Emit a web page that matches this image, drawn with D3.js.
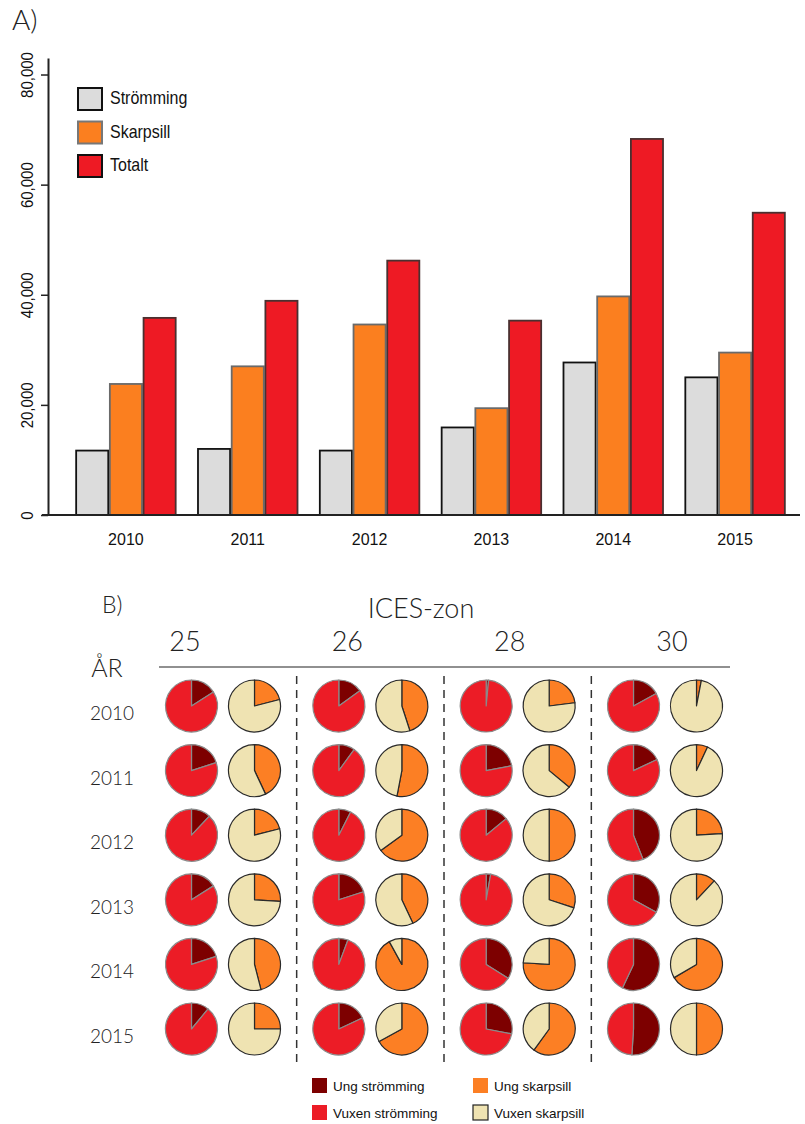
<!DOCTYPE html>
<html>
<head>
<meta charset="utf-8">
<script src="https://cdn.jsdelivr.net/npm/d3@7"></script>
<style>
  body { margin: 0; background: #fff; }
  svg { display: block; }
  .thin { font-family: Lato, "Open Sans", sans-serif; font-weight: 300; fill: #222; }
  .arial { font-family: "Liberation Sans", Arial, sans-serif; fill: #111; }
</style>
</head>
<body>
<div id="chart"></div>
<script>
// --- panel A: landings per year
const years = ["2010", "2011", "2012", "2013", "2014", "2015"];
const seriesNames = ["Strömming", "Skarpsill", "Totalt"];
const strommingTot = [11700, 12000, 11700, 15900, 27700, 25000];
const skarpsillTot = [23800, 27000, 34600, 19400, 39700, 29500];
const totalt = [35800, 38900, 46200, 35300, 68300, 54900];
const yTicks = [0, 20000, 40000, 60000, 80000];

// --- panel B: share (%) of young fish per ICES zone, rows = years
const zones = ["25", "26", "28", "30"];
const ungStromming = {
  "25": [16, 20, 12, 16, 20, 11],
  "26": [15, 10, 7.5, 20, 5.7, 18],
  "28": [1.5, 22, 14, 2.8, 34, 28],
  "30": [17, 18, 44, 33, 57, 51]
};
const ungSkarpsill = {
  "25": [21, 43, 21, 26, 46, 25],
  "26": [45, 53, 65, 43, 92, 67],
  "28": [23, 36, 50, 30, 76, 60],
  "30": [3, 7, 24, 12, 66.5, 50]
};
const pieLegend = ["Ung strömming", "Vuxen strömming", "Ung skarpsill", "Vuxen skarpsill"];

const width = 805, height = 1124;
const svg = d3.select("#chart").append("svg")
  .attr("width", width).attr("height", height);

// ---------------- A) bar chart
const barFill = { "Strömming": "#dcdcdc", "Skarpsill": "#fb7f1f", "Totalt": "#ee1a24" };
const barStroke = { "Strömming": "#111", "Skarpsill": "#6a6a6a", "Totalt": "#4a3030" };

svg.append("text").attr("class", "thin")
  .attr("x", 12).attr("y", 30).attr("font-size", 28).text("A)");

const x = d3.scaleBand().domain(years).range([65, 796])
  .paddingInner(0.17).paddingOuter(0.085);
const xs = d3.scaleBand().domain(seriesNames).range([0, x.bandwidth()]);
const y = d3.scaleLinear().domain([0, 83000]).range([515, 58]);

const rows = years.map((yr, i) => ({
  year: yr,
  vals: [strommingTot[i], skarpsillTot[i], totalt[i]]
}));

const groups = svg.append("g").selectAll("g").data(rows).join("g")
  .attr("transform", d => `translate(${x(d.year)},0)`);
groups.selectAll("rect")
  .data(d => d.vals.map((v, j) => ({ name: seriesNames[j], v })))
  .join("rect")
  .attr("x", d => xs(d.name) + 0.8)
  .attr("width", xs.bandwidth() - 1.6)
  .attr("y", d => y(d.v))
  .attr("height", d => y(0) - y(d.v))
  .attr("fill", d => barFill[d.name])
  .attr("stroke", d => barStroke[d.name])
  .attr("stroke-width", 1.8);

// x axis baseline and year labels
svg.append("line").attr("x1", 42).attr("x2", 800)
  .attr("y1", y(0)).attr("y2", y(0))
  .attr("stroke", "#222").attr("stroke-width", 2);
svg.append("g").selectAll("text").data(years).join("text")
  .attr("class", "arial")
  .attr("x", d => x(d) + x.bandwidth() / 2)
  .attr("y", 545)
  .attr("text-anchor", "middle")
  .attr("font-size", 16)
  .text(d => d);

// y axis
const yAxis = svg.append("g").attr("transform", "translate(48,0)")
  .call(d3.axisLeft(y).tickValues(yTicks).tickFormat(d3.format(","))
    .tickSize(7).tickSizeOuter(0));
yAxis.select(".domain").attr("stroke", "#222").attr("stroke-width", 2);
yAxis.selectAll(".tick line").attr("stroke", "#222").attr("stroke-width", 1.5);
yAxis.selectAll(".tick text")
  .attr("class", "arial")
  .attr("font-size", 15)
  .attr("text-anchor", "middle")
  .attr("x", null).attr("dy", null)
  .attr("transform", "rotate(-90) translate(0,-15) scale(1,1.15)")
  .attr("y", 0);

// legend A
const legA = svg.append("g").selectAll("g").data(seriesNames).join("g")
  .attr("transform", (d, i) => `translate(78,${88 + i * 33.5})`);
legA.append("rect").attr("width", 24).attr("height", 22)
  .attr("fill", d => barFill[d])
  .attr("stroke", d => d === "Skarpsill" ? "#777" : "#111")
  .attr("stroke-width", 2);
legA.append("text").attr("class", "arial")
  .attr("transform", "translate(32,16) scale(1,1.2)")
  .attr("font-size", 16).text(d => d);

// ---------------- B) pie grid
const pieCol = {
  "Ung strömming": "#7d0000",
  "Vuxen strömming": "#ec1c26",
  "Ung skarpsill": "#fc7f24",
  "Vuxen skarpsill": "#efe3b2"
};

svg.append("text").attr("class", "thin")
  .attr("x", 102).attr("y", 613).attr("font-size", 23).text("B)");
svg.append("text").attr("class", "thin")
  .attr("x", 421).attr("y", 618).attr("font-size", 27)
  .attr("text-anchor", "middle").text("ICES-zon");
svg.append("text").attr("class", "thin")
  .attr("x", 107).attr("y", 677).attr("font-size", 25)
  .attr("text-anchor", "middle").text("ÅR");

const zx = d3.scalePoint().domain(zones).range([223, 665]);
const zLabel = d3.scalePoint().domain(zones).range([185, 672]);
const ry = d3.scalePoint().domain(years).range([706, 1029]);
const r = 26, pieOff = 31.5;

svg.append("g").selectAll("text").data(zones).join("text")
  .attr("class", "thin")
  .attr("x", d => zLabel(d)).attr("y", 651)
  .attr("text-anchor", "middle").attr("font-size", 27)
  .text(d => d);

svg.append("line").attr("x1", 159).attr("x2", 730)
  .attr("y1", 667).attr("y2", 667)
  .attr("stroke", "#222").attr("stroke-width", 1.2);

svg.append("g").selectAll("text").data(years).join("text")
  .attr("class", "thin")
  .attr("x", 112).attr("y", d => ry(d) + 14)
  .attr("text-anchor", "middle").attr("font-size", 19)
  .text(d => d);

// dashed zone separators
const seps = zones.slice(1).map((z, i) => (zx(zones[i]) + zx(z)) / 2);
svg.append("g").selectAll("line").data(seps).join("line")
  .attr("x1", d => d).attr("x2", d => d)
  .attr("y1", 676).attr("y2", 1068)
  .attr("stroke", "#333").attr("stroke-width", 1.5)
  .attr("stroke-dasharray", "8,6");

const pie = d3.pie().sort(null).value(d => d.v);
const arc = d3.arc().innerRadius(0).outerRadius(r);

const cells = [];
zones.forEach(z => years.forEach((yr, i) => {
  cells.push({ z, yr, kind: "s", off: -pieOff, stroke: "#8a8a8a",
    parts: [{ k: "Ung strömming", v: ungStromming[z][i] },
            { k: "Vuxen strömming", v: 100 - ungStromming[z][i] }] });
  cells.push({ z, yr, kind: "k", off: pieOff, stroke: "#2a2a2a",
    parts: [{ k: "Ung skarpsill", v: ungSkarpsill[z][i] },
            { k: "Vuxen skarpsill", v: 100 - ungSkarpsill[z][i] }] });
}));

const pies = svg.append("g").selectAll("g").data(cells).join("g")
  .attr("transform", d => `translate(${zx(d.z) + d.off},${ry(d.yr)})`);
pies.each(function(d) {
  d3.select(this).selectAll("path").data(pie(d.parts)).join("path")
    .attr("d", arc)
    .attr("fill", p => pieCol[p.data.k])
    .attr("stroke", d.stroke)
    .attr("stroke-width", 1.2)
    .attr("stroke-linejoin", "round");
});

// legend B
const legB = svg.append("g").selectAll("g").data(pieLegend).join("g")
  .attr("transform", (d, i) => `translate(${i < 2 ? 312 : 473},${1078 + (i % 2) * 27})`);
legB.append("rect").attr("width", 15).attr("height", 15)
  .attr("fill", d => pieCol[d])
  .attr("stroke", d => d === "Vuxen skarpsill" ? "#222" : "none")
  .attr("stroke-width", 1.2);
legB.append("text").attr("class", "arial")
  .attr("x", 21).attr("y", 13).attr("font-size", 13.5)
  .attr("fill", "#1a1a3a")
  .text(d => d);
</script>
</body>
</html>
